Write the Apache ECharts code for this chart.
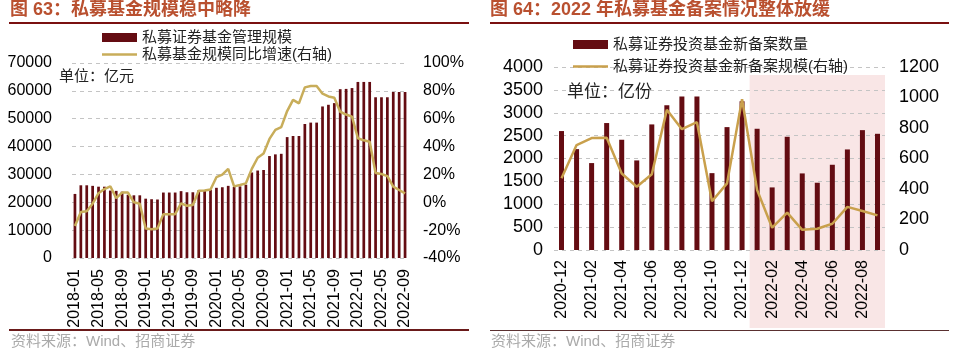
<!DOCTYPE html>
<html>
<head>
<meta charset="UTF-8">
<script src="https://cdn.jsdelivr.net/npm/echarts@6/dist/echarts.min.js"></script>
<style>
body { margin: 0; background: #fff; }
#main { width: 961px; height: 354px; }
</style>
</head>
<body>
<div id="main"></div>
<script>
// 图63：私募证券基金管理规模（亿元）及同比增速（%）
var months1 = ['2018-01','2018-02','2018-03','2018-04','2018-05','2018-06','2018-07','2018-08','2018-09','2018-10','2018-11','2018-12',
	'2019-01','2019-02','2019-03','2019-04','2019-05','2019-06','2019-07','2019-08','2019-09','2019-10','2019-11','2019-12',
	'2020-01','2020-02','2020-03','2020-04','2020-05','2020-06','2020-07','2020-08','2020-09','2020-10','2020-11','2020-12',
	'2021-01','2021-02','2021-03','2021-04','2021-05','2021-06','2021-07','2021-08','2021-09','2021-10','2021-11','2021-12',
	'2022-01','2022-02','2022-03','2022-04','2022-05','2022-06','2022-07','2022-08','2022-09'];
var scale1 = [23000, 26100, 26100, 25900, 25600, 25600, 24200, 24100, 23800, 22700, 22500, 22500,
	21300, 21100, 21000, 23500, 23500, 23500, 24000, 23600, 23600, 24300, 24300, 24500,
	25200, 25400, 25900, 25500, 25700, 26300, 30700, 31400, 31600, 36600, 37200, 37400,
	43400, 43800, 43800, 48100, 48600, 48600, 54400, 55000, 55600, 60600, 60700, 61000,
	63200, 63200, 63200, 57700, 57700, 57700, 59600, 59600, 59600];
var growth1 = [-17, -7, -6.5, -1, 6.5, 9.5, 11.5, 3, 7, 7, 0, -1,
	-18.8, -19.3, -18.8, -8.5, -8.5, -8.5, -0.8, -2.5, -2, 8.3, 8.5, 9.2,
	18, 19.8, 24, 11.4, 12.4, 13.6, 24, 32, 35, 45.5, 52, 54,
	65.5, 73.5, 71, 82.5, 83.5, 83.5, 78, 76, 75, 65, 63, 61.5,
	46, 44.5, 43.5, 21, 20.3, 18.8, 11.2, 8.8, 6.4];

// 图64：私募证券投资基金新备案数量（只）及规模（亿份）
var months2 = ['2020-12','2021-01','2021-02','2021-03','2021-04','2021-05','2021-06','2021-07','2021-08','2021-09','2021-10','2021-11',
	'2021-12','2022-01','2022-02','2022-03','2022-04','2022-05','2022-06','2022-07','2022-08','2022-09'];
var count2 = [2600, 2205, 1900, 2775, 2410, 1958, 2745, 3165, 3355, 3355, 1680, 2686,
	3250, 2650, 1368, 2475, 1674, 1470, 1863, 2198, 2620, 2540];
var scale2 = [470, 688, 734, 736, 502, 415, 497, 919, 792, 838, 320, 437,
	989, 393, 146, 245, 132, 139, 172, 283, 256, 227];

var font = '"Liberation Sans", "Noto Sans CJK SC", sans-serif';
var barColor = '#640c12';
var titleColor = '#b9502f';
var lineIcon = 'path://M0,0H35V2.6H0Z';

var chart = echarts.init(document.getElementById('main'));

function plain(v) { return String(v); }

function decorations(pink) {
	var g = [
		{ type: 'text', left: 10, top: 1, style: { text: '图 63：私募基金规模稳中略降', font: 'bold 18px ' + font, fill: titleColor } },
		{ type: 'text', left: 490, top: 1, style: { text: '图 64：2022 年私募基金备案情况整体放缓', font: 'bold 18px ' + font, fill: titleColor } },
		{ type: 'line', shape: { x1: 9, y1: 23, x2: 469, y2: 23 }, style: { stroke: '#7a1010', lineWidth: 2 } },
		{ type: 'line', shape: { x1: 490, y1: 23, x2: 949, y2: 23 }, style: { stroke: '#7a1010', lineWidth: 2 } },
		{ type: 'line', shape: { x1: 9, y1: 330, x2: 469, y2: 330 }, style: { stroke: '#6a1a1a', lineWidth: 2 } },
		{ type: 'line', shape: { x1: 490, y1: 330.5, x2: 949, y2: 330.5 }, style: { stroke: '#5a3030', lineWidth: 1.2 } },
		{ type: 'text', left: 11, top: 334, style: { text: '资料来源：Wind、招商证券', font: '15px ' + font, fill: '#aaaaaa' } },
		{ type: 'text', left: 491, top: 334, style: { text: '资料来源：Wind、招商证券', font: '15px ' + font, fill: '#aaaaaa' } },
		{ type: 'text', left: 59, top: 69, style: { text: '单位：亿元', font: '15px ' + font, fill: '#222' } },
		{ type: 'text', left: 567, top: 84, style: { text: '单位：亿份', font: '17px ' + font, fill: '#222' } }
	];
	if (pink) g.push(pink);
	return g;
}

var option = {
	animation: false,
	backgroundColor: '#fff',
	textStyle: { fontFamily: font },
	graphic: decorations(null),
	legend: [{
		orient: 'vertical', left: 97, top: 25, itemWidth: 35, itemHeight: 9, itemGap: 2,
		textStyle: { fontSize: 15, color: '#222', fontFamily: font },
		data: [{ name: '私募证券基金管理规模', icon: 'rect' }, { name: '私募基金规模同比增速(右轴)', icon: lineIcon }]
	}, {
		orient: 'vertical', left: 568, top: 32, itemWidth: 35, itemHeight: 9, itemGap: 7,
		textStyle: { fontSize: 15, color: '#222', fontFamily: font },
		data: [{ name: '私募证券投资基金新备案数量', icon: 'rect' }, { name: '私募证券投资基金新备案规模(右轴)', icon: lineIcon }]
	}],
	grid: [
		{ left: 72, top: 63, width: 336, height: 195 },
		{ left: 554, top: 67, width: 331, height: 183 }
	],
	xAxis: [{
		type: 'category', gridIndex: 0, data: months1,
		axisLine: { show: false }, axisTick: { show: false },
		axisLabel: { interval: 3, rotate: 90, margin: 11, fontSize: 16, color: '#000' }
	}, {
		type: 'category', gridIndex: 1, data: months2,
		axisLine: { show: false }, axisTick: { show: false },
		axisLabel: { interval: 1, rotate: 90, margin: 10, fontSize: 16, color: '#000' }
	}],
	yAxis: [{
		type: 'value', gridIndex: 0, min: 0, max: 70000, interval: 10000,
		axisLine: { show: false }, axisTick: { show: false },
		axisLabel: { margin: 20, fontSize: 16, color: '#000', formatter: plain },
		splitLine: { lineStyle: { type: [4, 4], color: '#c4c4c4' } }
	}, {
		type: 'value', gridIndex: 0, position: 'right', min: -40, max: 100, interval: 20,
		axisLine: { show: false }, axisTick: { show: false },
		axisLabel: { margin: 15, fontSize: 16, color: '#000', formatter: function (v) { return v + '%'; } },
		splitLine: { show: false }
	}, {
		type: 'value', gridIndex: 1, min: 0, max: 4000, interval: 500,
		axisLine: { show: false }, axisTick: { show: false },
		axisLabel: { margin: 11, fontSize: 18, color: '#000', formatter: plain },
		splitLine: { lineStyle: { type: [4, 4], color: '#c4c4c4' } }
	}, {
		type: 'value', gridIndex: 1, position: 'right', min: 0, max: 1200, interval: 200,
		axisLine: { show: false }, axisTick: { show: false },
		axisLabel: { margin: 14, fontSize: 18, color: '#000', formatter: plain },
		splitLine: { show: false }
	}],
	series: [{
		name: '私募证券基金管理规模', type: 'bar', xAxisIndex: 0, yAxisIndex: 0,
		data: scale1, barWidth: '46%', itemStyle: { color: barColor }
	}, {
		name: '私募基金规模同比增速(右轴)', type: 'line', xAxisIndex: 0, yAxisIndex: 1,
		data: growth1, symbol: 'none', lineStyle: { width: 2.5, color: '#c8ad5a' }, itemStyle: { color: '#c8ad5a' }
	}, {
		name: '私募证券投资基金新备案数量', type: 'bar', xAxisIndex: 1, yAxisIndex: 2,
		data: count2, barWidth: 5, itemStyle: { color: barColor }
	}, {
		name: '私募证券投资基金新备案规模(右轴)', type: 'line', xAxisIndex: 1, yAxisIndex: 3,
		data: scale2, symbol: 'none', lineStyle: { width: 2.5, color: '#c9a04c' }, itemStyle: { color: '#c9a04c' }
	}]
};
chart.setOption(option);

// 2022 年起的浅红色底纹
var xa = chart.convertToPixel({ xAxisIndex: 1 }, months2[12]);
var xb = chart.convertToPixel({ xAxisIndex: 1 }, months2[13]);
var xe = chart.convertToPixel({ xAxisIndex: 1 }, months2[months2.length - 1]) + (xb - xa) / 2;
var x0 = (xa + xb) / 2;
chart.setOption({
	graphic: decorations({
		type: 'rect', z: -10, silent: true,
		shape: { x: x0, y: 75, width: xe - x0, height: 253 },
		style: { fill: '#f9e6e6' }
	})
}, { replaceMerge: ['graphic'] });
</script>
</body>
</html>
